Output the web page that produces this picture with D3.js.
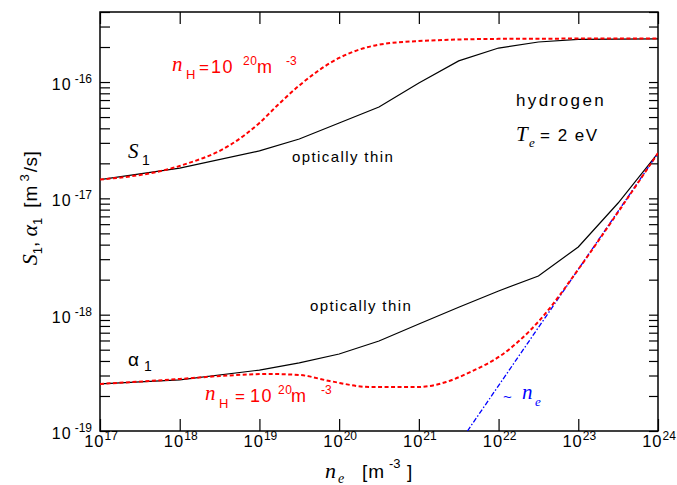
<!DOCTYPE html>
<html>
<head>
<meta charset="utf-8">
<script src="https://cdn.jsdelivr.net/npm/d3@7"></script>
<style>
  body { margin: 0; background: #fff; }
  text { font-family: "Liberation Sans", Arial, Helvetica, sans-serif; }
  .it { font-family: "Liberation Serif", "Times New Roman", serif; font-style: italic; }
</style>
</head>
<body>
<div id="chart"></div>
<script>
// electron density grid for the optically thin curves [m^-3]
const nThin = [1e17, 1e18, 1e19, 3.16e19, 1e20, 3.16e20, 1e21, 3.16e21, 1e22, 3.16e22, 1e23, 3.16e23, 1e24];
const s1Thin = [1.45e-17, 1.82e-17, 2.56e-17, 3.24e-17, 4.45e-17, 6.1e-17, 9.8e-17, 1.52e-16, 1.96e-16, 2.21e-16, 2.33e-16, 2.34e-16, 2.35e-16];
const alphaThin = [2.54e-19, 2.75e-19, 3.34e-19, 3.85e-19, 4.59e-19, 5.94e-19, 8.32e-19, 1.16e-18, 1.6e-18, 2.15e-18, 3.82e-18, 9.12e-18, 2.45e-17];

// n_H = 1e20 m^-3
const nS1H = [1e17, 1e18, 4.3e18, 1e19, 1.7e19, 3.2e19, 1e20, 3e20, 1e21, 1e22, 1e24];
const s1H = [1.45e-17, 1.9e-17, 2.88e-17, 4.45e-17, 6.35e-17, 9.4e-17, 1.61e-16, 2.08e-16, 2.25e-16, 2.35e-16, 2.37e-16];
const nAlphaH = [1e17, 1e18, 3.2e18, 1.35e19, 3.2e19, 7.6e19, 2.45e20, 1e21, 2.2e21, 4.4e21, 1.05e22, 3.3e22, 1.05e23, 2.7e23, 1e24];
const alphaH = [2.54e-19, 2.8e-19, 2.97e-19, 3.09e-19, 3.03e-19, 2.69e-19, 2.39e-19, 2.39e-19, 2.64e-19, 3.21e-19, 4.42e-19, 9.0e-19, 2.57e-18, 6.52e-18, 2.45e-17];

// ~ n_e reference line
const nLinear = [4.07e21, 1e24];
const alphaLinear = [1e-19, 2.45e-17];

const xTickExps = [17, 18, 19, 20, 21, 22, 23, 24];
const yTickExps = [-19, -18, -17, -16];

const width = 677, height = 485;
const margin = {top: 12, right: 19, bottom: 54, left: 100};

const svg = d3.select("#chart").append("svg")
    .attr("width", width)
    .attr("height", height);

const x = d3.scaleLog()
    .domain([1e17, 1e24])
    .range([margin.left, width - margin.right]);
const y = d3.scaleLog()
    .domain([1e-19, 4e-16])
    .range([height - margin.bottom, margin.top]);

const x0 = x.range()[0], x1 = x.range()[1];
const yB = y.range()[0], yT = y.range()[1];

svg.append("clipPath").attr("id", "clip")
    .append("rect")
    .attr("x", x0).attr("y", yT)
    .attr("width", x1 - x0).attr("height", yB - yT);

// ticks, all pointing inward
const decades = xTickExps.map(e => Math.pow(10, e));
function tidy(g) {
    g.select(".domain").remove();
    g.selectAll(".tick line").attr("stroke", "#000").attr("stroke-width", 1.2);
}
svg.append("g").attr("transform", `translate(0,${yB})`)
    .call(d3.axisBottom(x).tickValues(decades).tickSize(-12).tickFormat(""))
    .call(tidy);
svg.append("g").attr("transform", `translate(0,${yT})`)
    .call(d3.axisTop(x).tickValues(decades).tickSize(-12).tickFormat(""))
    .call(tidy);
svg.append("g").attr("transform", `translate(${x0},0)`)
    .call(d3.axisLeft(y).tickValues(y.ticks()).tickSize(-10).tickFormat(""))
    .call(tidy);
svg.append("g").attr("transform", `translate(${x1},0)`)
    .call(d3.axisRight(y).tickValues(y.ticks()).tickSize(-9).tickFormat(""))
    .call(tidy);

svg.append("rect")
    .attr("x", x0).attr("y", yT)
    .attr("width", x1 - x0).attr("height", yB - yT)
    .attr("fill", "none")
    .attr("stroke", "#000")
    .attr("stroke-width", 1.5);

// tick labels
xTickExps.forEach(e => {
    const t = svg.append("text")
        .attr("x", x(Math.pow(10, e)) + 1)
        .attr("y", yB + 16)
        .attr("text-anchor", "middle")
        .attr("font-size", 16.5);
    t.append("tspan").attr("letter-spacing", 1).text("10");
    t.append("tspan").attr("font-size", 12).attr("dy", -7).text(e);
});
yTickExps.forEach(e => {
    const t = svg.append("text")
        .attr("x", 92)
        .attr("y", y(Math.pow(10, e)) + 8)
        .attr("text-anchor", "end")
        .attr("font-size", 16);
    t.append("tspan").attr("letter-spacing", 1).text("10");
    t.append("tspan").attr("font-size", 12).attr("dx", 3).attr("dy", -7).text(e);
});

// curves
const plot = svg.append("g").attr("clip-path", "url(#clip)");
function curve(xs, ys, curveType) {
    return d3.line()
        .x((d, i) => x(xs[i]))
        .y(d => y(d))
        .curve(curveType)(ys);
}
plot.append("path")
    .attr("d", curve(nThin, s1Thin, d3.curveLinear))
    .attr("fill", "none").attr("stroke", "#000").attr("stroke-width", 1.2);
plot.append("path")
    .attr("d", curve(nThin, alphaThin, d3.curveLinear))
    .attr("fill", "none").attr("stroke", "#000").attr("stroke-width", 1.2);
plot.append("path")
    .attr("d", curve(nLinear, alphaLinear, d3.curveLinear))
    .attr("fill", "none").attr("stroke", "#0000ff").attr("stroke-width", 1.3)
    .attr("stroke-dasharray", "5,2,1.5,2");
plot.append("path")
    .attr("d", curve(nS1H, s1H, d3.curveMonotoneX))
    .attr("fill", "none").attr("stroke", "#ff0000").attr("stroke-width", 2)
    .attr("stroke-dasharray", "4,2.5");
plot.append("path")
    .attr("d", curve(nAlphaH, alphaH, d3.curveMonotoneX))
    .attr("fill", "none").attr("stroke", "#ff0000").attr("stroke-width", 2)
    .attr("stroke-dasharray", "4,2.5");

// annotations
function piece(px, py, txt, size, opts = {}) {
    const t = svg.append("text")
        .attr("x", px).attr("y", py)
        .attr("font-size", size)
        .attr("fill", opts.color || "#000")
        .text(txt);
    if (opts.italic) t.attr("class", "it");
    if (opts.spacing) t.attr("letter-spacing", opts.spacing);
    return t;
}

const red = "#ff0000";
// upper n_H label
piece(172, 71, "n", 21, {italic: true, color: red});
piece(186, 79, "H", 13, {color: red});
piece(199, 73, "=", 17, {color: red});
piece(211, 73, "10", 18, {color: red, spacing: 1.5});
piece(243, 65, "20", 12, {color: red, spacing: 0.5});
piece(257, 73, "m", 18, {color: red});
piece(286, 65, "-3", 12, {color: red});
// lower n_H label
piece(205, 400, "n", 21, {italic: true, color: red});
piece(219, 408, "H", 13, {color: red});
piece(235, 402, "=", 17, {color: red});
piece(250, 402, "10", 18, {color: red, spacing: 1.5});
piece(278, 394, "20", 12, {color: red, spacing: 0.5});
piece(291, 402, "m", 18, {color: red});
piece(321, 394, "-3", 12, {color: red});

piece(128, 158, "S", 21, {italic: true});
piece(142, 165, "1", 14);
piece(128, 366, "\u03b1", 19);
piece(144, 371, "1", 14);

piece(292, 162, "optically thin", 15, {spacing: 1.4});
piece(310, 311, "optically thin", 15, {spacing: 1.4});

piece(516, 106, "hydrogen", 17, {spacing: 2.4});
piece(516, 141, "T", 21, {italic: true});
piece(529, 147, "e", 13, {italic: true});
piece(540, 141, "= 2 eV", 17, {spacing: 1.5});

piece(503, 402, "~", 15, {color: "#0000ff"});
piece(522, 399, "n", 21, {italic: true, color: "#0000ff"});
piece(535, 406, "e", 13, {italic: true, color: "#0000ff"});

// axis titles
piece(325, 478, "n", 22, {italic: true});
piece(338, 483, "e", 14, {italic: true});
piece(362, 478, "[m", 19, {spacing: 1});
piece(389, 468, "-3", 13);
piece(407, 478, "]", 19);

const yt = svg.append("text")
    .attr("transform", "translate(37,208) rotate(-90)")
    .attr("text-anchor", "middle")
    .attr("font-size", 19);
yt.append("tspan").attr("class", "it").attr("font-size", 22).text("S");
yt.append("tspan").attr("font-size", 13).attr("dy", 5).text("1");
yt.append("tspan").attr("dy", -5).text(", ");
yt.append("tspan").attr("class", "it").attr("font-size", 22).text("\u03b1");
yt.append("tspan").attr("font-size", 13).attr("dy", 5).text("1");
yt.append("tspan").attr("dy", -5).attr("dx", 10).attr("letter-spacing", 1).text("[m");
yt.append("tspan").attr("font-size", 13).attr("dx", 3).attr("dy", -8).text("3");
yt.append("tspan").attr("dy", 8).attr("dx", 2).attr("letter-spacing", 0.5).text("/s]");
</script>
</body>
</html>
